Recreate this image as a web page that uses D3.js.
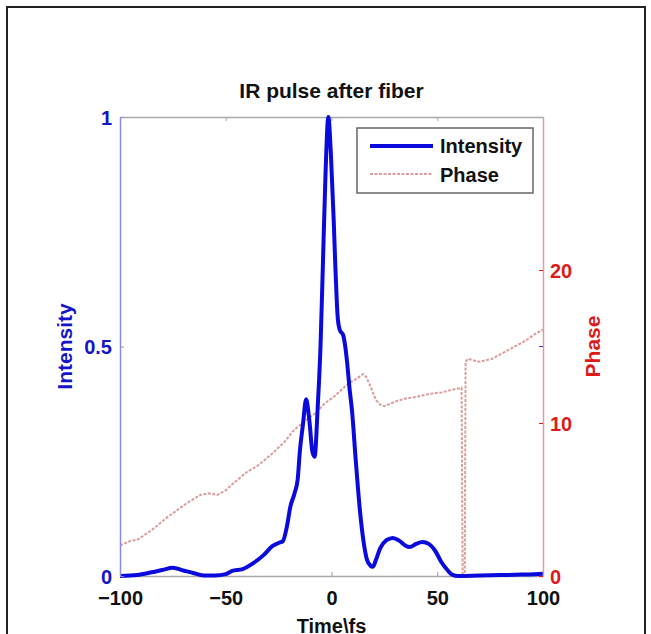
<!DOCTYPE html>
<html>
<head>
<meta charset="utf-8">
<script src="https://cdn.jsdelivr.net/npm/d3@7"></script>
<style>
  body { margin: 0; background: #fff; }
  svg text { font-family: "Liberation Sans", Arial, sans-serif; font-weight: bold; }
</style>
</head>
<body>
<div id="chart"></div>
<script>
// Intensity trace (time in fs, normalised intensity)
const intensityTime = [-100, -92, -85, -80, -75, -70, -65, -60, -55, -50, -47, -42, -37, -32, -28, -25, -23, -21, -19.5, -17.5,
  -16, -15, -13.5, -12, -10.5, -9, -8, -6.5, -5.2, -4, -2.8, -1.5, -0.3, 1, 1.7, 3, 4, 5.5, 6.5, 7.5, 8.5, 9.7, 11.5, 13.5,
  15, 16.8, 18.5, 19.5, 21, 23, 26, 29, 32, 35, 37, 40, 43, 46, 49, 52, 55, 57, 60, 70, 80, 90, 96, 100];
const intensityValues = [0, 0.002, 0.008, 0.013, 0.018, 0.012, 0.006, 0.001, 0.001, 0.004, 0.011, 0.015, 0.028, 0.046, 0.065, 0.072, 0.076, 0.11, 0.15, 0.18,
  0.21, 0.27, 0.33, 0.385, 0.34, 0.27, 0.26, 0.37, 0.5, 0.69, 0.88, 1.0, 0.92, 0.78, 0.69, 0.56, 0.535, 0.525, 0.5, 0.46, 0.41, 0.36, 0.25, 0.14,
  0.08, 0.035, 0.022, 0.02, 0.035, 0.06, 0.078, 0.083, 0.077, 0.066, 0.063, 0.07, 0.074, 0.07, 0.055, 0.03, 0.012, 0.003, 0, 0.001, 0.002, 0.003, 0.004, 0.005];

// Phase trace (time in fs, phase in rad)
const phaseTime = [-100, -95, -92, -85, -78, -72, -68, -62, -58, -54, -50, -46, -40, -35, -28, -22, -18, -12, -8, -3,
  1, 5, 8, 12, 15, 16.5, 19, 21, 23, 25, 30, 35, 40, 46, 52, 58, 61.5, 62, 63, 63.4, 64.5, 67, 70, 76, 80, 84, 88, 92, 96, 100];
const phaseValues = [2.0, 2.3, 2.35, 3.0, 3.8, 4.4, 4.8, 5.3, 5.4, 5.3, 5.6, 6.1, 6.8, 7.2, 8.0, 8.8, 9.5, 10.2, 10.6, 11.3,
  11.7, 12.2, 12.6, 12.9, 13.2, 13.0, 12.2, 11.5, 11.2, 11.1, 11.4, 11.6, 11.7, 11.9, 12.0, 12.2, 12.3, 0, 0, 14.0, 14.2, 14.1, 14.0, 14.2, 14.5, 14.8, 15.1, 15.4, 15.8, 16.1];

const timeTicks = [-100, -50, 0, 50, 100];
const intensityTicks = [0, 0.5, 1];
const phaseTicks = [0, 10, 20];
const legendLabels = ["Intensity", "Phase"];

const width = 651, height = 634;
const plot = { left: 120, right: 543, top: 117, bottom: 576 };

const blue = "#0a0adc", red = "#dd1a1a", phaseColor = "#dc9c9c";

const svg = d3.select("#chart").append("svg")
  .attr("width", width)
  .attr("height", height);

// outer frame
svg.append("rect")
  .attr("x", 7).attr("y", 7)
  .attr("width", 638).attr("height", 700)
  .attr("fill", "none")
  .attr("stroke", "#222")
  .attr("stroke-width", 2);

const x = d3.scaleLinear().domain([-100, 100]).range([plot.left, plot.right]);
const yL = d3.scaleLinear().domain([0, 1]).range([plot.bottom, plot.top]);
const yR = d3.scaleLinear().domain([0, 30]).range([plot.bottom, plot.top]);

// top box line
const topAxis = svg.append("g")
  .attr("transform", `translate(0,${plot.top})`)
  .call(d3.axisTop(x).tickValues(timeTicks).tickSize(-4).tickSizeOuter(0).tickFormat(""));
topAxis.select(".domain").attr("stroke", "#a8a8a8").attr("stroke-width", 1.5);
topAxis.selectAll(".tick line").attr("stroke", "#a8a8a8");

// bottom axis
const xAxis = svg.append("g")
  .attr("transform", `translate(0,${plot.bottom})`)
  .call(d3.axisBottom(x).tickValues(timeTicks).tickSize(-4).tickSizeOuter(0).tickPadding(15));
xAxis.select(".domain").attr("stroke", "#a8a8a8").attr("stroke-width", 1.5);
xAxis.selectAll(".tick line").attr("stroke", "#999");
xAxis.selectAll("text").style("font-size", "20px").attr("fill", "#111");

// phase line (drawn under intensity)
const phaseLine = d3.line()
  .x((d, i) => x(phaseTime[i]))
  .y(d => yR(d));
svg.append("path")
  .datum(phaseValues)
  .attr("fill", "none")
  .attr("stroke", phaseColor)
  .attr("stroke-width", 2)
  .attr("stroke-dasharray", "3,1.5")
  .attr("d", phaseLine);

// intensity line
const intensityLine = d3.line()
  .x((d, i) => x(intensityTime[i]))
  .y(d => yL(d))
  .curve(d3.curveMonotoneX);
svg.append("path")
  .datum(intensityValues)
  .attr("fill", "none")
  .attr("stroke", blue)
  .attr("stroke-width", 4)
  .attr("stroke-linejoin", "round")
  .attr("d", intensityLine);

// left axis
const leftAxis = svg.append("g")
  .attr("transform", `translate(${plot.left},0)`)
  .call(d3.axisLeft(yL).tickValues(intensityTicks).tickSize(-4).tickSizeOuter(0).tickPadding(8).tickFormat(d => d));
leftAxis.select(".domain").attr("stroke", "#8a8ae0").attr("stroke-width", 1.5);
leftAxis.selectAll(".tick line").attr("stroke", "#8a8ae0");
leftAxis.selectAll("text").style("font-size", "20px").attr("fill", "#1414c8").attr("dy", "0.36em");

// right axis
const rightAxis = svg.append("g")
  .attr("transform", `translate(${plot.right},0)`)
  .call(d3.axisRight(yR).tickValues(phaseTicks).tickSize(-4).tickSizeOuter(0).tickPadding(7));
rightAxis.select(".domain").attr("stroke", "#e59a9a").attr("stroke-width", 1.5);
rightAxis.selectAll(".tick line").attr("stroke", red);
rightAxis.selectAll("text").style("font-size", "20px").attr("fill", red).attr("dy", "0.36em");

// mirrored intensity tick on the right edge
svg.append("line")
  .attr("x1", plot.right - 4).attr("x2", plot.right)
  .attr("y1", yL(0.5)).attr("y2", yL(0.5))
  .attr("stroke", "#4040d0");

// titles
svg.append("text")
  .attr("x", (plot.left + plot.right) / 2)
  .attr("y", 98)
  .attr("text-anchor", "middle")
  .style("font-size", "21px")
  .attr("fill", "#111")
  .text("IR pulse after fiber");

svg.append("text")
  .attr("transform", `translate(72,${(plot.top + plot.bottom) / 2}) rotate(-90)`)
  .attr("text-anchor", "middle")
  .style("font-size", "21px")
  .attr("fill", "#1414c8")
  .text("Intensity");

svg.append("text")
  .attr("transform", `translate(600,${(plot.top + plot.bottom) / 2}) rotate(-90)`)
  .attr("text-anchor", "middle")
  .style("font-size", "21px")
  .attr("fill", red)
  .text("Phase");

svg.append("text")
  .attr("x", (plot.left + plot.right) / 2)
  .attr("y", 633)
  .attr("text-anchor", "middle")
  .style("font-size", "20px")
  .attr("fill", "#111")
  .text("Time\\fs");

// legend
const legend = svg.append("g").attr("transform", "translate(357,128)");
legend.append("rect")
  .attr("width", 176).attr("height", 65)
  .attr("fill", "#fff")
  .attr("stroke", "#666")
  .attr("stroke-width", 1.5);

const legendStyles = [
  { color: blue, width: 4, dash: null },
  { color: phaseColor, width: 2, dash: "3,1.5" }
];
legend.selectAll("line.key")
  .data(legendLabels)
  .enter().append("line")
  .attr("class", "key")
  .attr("x1", 13).attr("x2", 76)
  .attr("y1", (d, i) => 18 + i * 28)
  .attr("y2", (d, i) => 18 + i * 28)
  .attr("stroke", (d, i) => legendStyles[i].color)
  .attr("stroke-width", (d, i) => legendStyles[i].width)
  .attr("stroke-dasharray", (d, i) => legendStyles[i].dash);
legend.selectAll("text")
  .data(legendLabels)
  .enter().append("text")
  .attr("x", 83)
  .attr("y", (d, i) => 25 + i * 29)
  .style("font-size", "20px")
  .attr("fill", "#111")
  .text(d => d);
</script>
</body>
</html>
